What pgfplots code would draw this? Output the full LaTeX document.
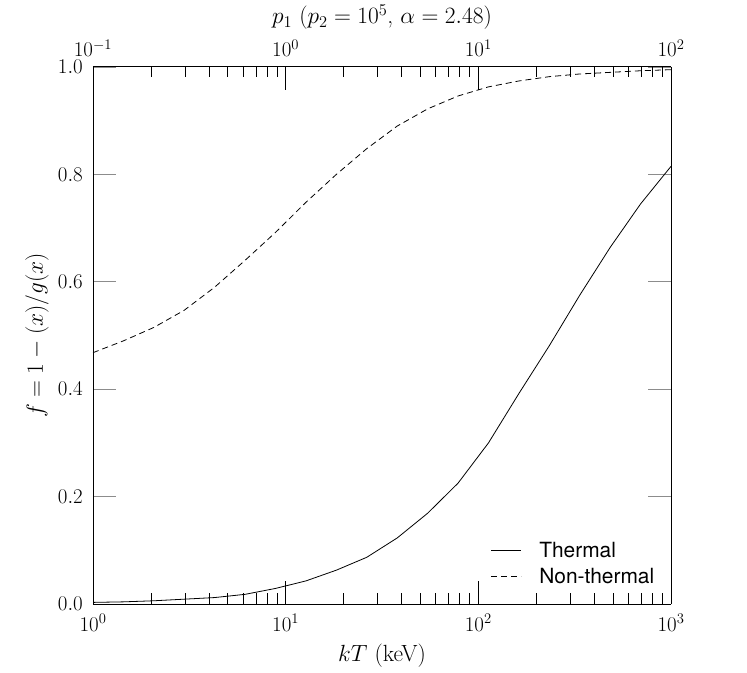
\documentclass[border=0pt]{standalone}
\usepackage{fix-cm}
\usepackage{pgfplots}
\pgfplotsset{compat=1.18}
\usepackage{fontspec}
\newfontfamily\helv{TeX Gyre Heros}

\pgfplotstableread{
kT f
1 0.003
1.438 0.004
2.069 0.006
2.976 0.009
4.281 0.012
6.158 0.018
8.859 0.029
12.74 0.043
18.33 0.063
26.37 0.087
37.93 0.123
54.56 0.169
78.48 0.225
112.9 0.300
162.4 0.392
233.6 0.481
336.0 0.575
483.3 0.664
695.2 0.745
1000 0.815
}\thermal

\pgfplotstableread{
p f
0.1 0.468
0.1438 0.490
0.2069 0.515
0.2976 0.547
0.4281 0.590
0.6158 0.640
0.8859 0.692
1.274 0.748
1.833 0.800
2.637 0.848
3.793 0.890
5.456 0.922
7.848 0.946
11.29 0.963
16.24 0.974
23.36 0.982
33.60 0.987
48.33 0.990
69.52 0.993
100 0.995
}\nonthermal

\pgfplotsset{
  myaxis/.style={
    scale only axis, width=578bp, height=537bp,
    at={(93bp,69bp)}, anchor=south west,
    tick align=inside,
    major tick length=23bp, minor tick length=10.5bp,
    every tick/.style={black, line width=0.5pt},
    tick label style={font=\fontsize{21}{25}\selectfont},
    label style={font=\fontsize{23.5}{28}\selectfont},
    axis line style={line width=1pt},
  }
}

\begin{document}
\begin{tikzpicture}
\useasboundingbox (0,0) rectangle (747bp,673bp);
\begin{axis}[myaxis,
  xmode=log, xmin=1, xmax=1000,
  ymin=0, ymax=1,
  axis x line*=bottom,
  ytick={0,0.2,0.4,0.6,0.8,1.0},
  yticklabel style={/pgf/number format/fixed, /pgf/number format/fixed zerofill,
    /pgf/number format/precision=1, inner sep=0pt, xshift=-10bp},
  xticklabel style={inner sep=0pt, yshift=-10bp},
  ytick style={black!45, line width=0.6pt},
  ytick pos=both,
  xlabel={$kT$ (keV)},
  xlabel style={at={(axis description cs:0.5,-0.0968)}, anchor=center},
  ylabel={$f = 1 - (x)/g(x)$},
  ylabel style={at={(axis description cs:-0.097,0.5)}, anchor=center},
]
\addplot[black, line width=0.8pt] table[x=kT, y=f] {\thermal};
\end{axis}
\begin{axis}[myaxis,
  xmode=log, xmin=0.1, xmax=100,
  ymin=0, ymax=1,
  axis x line*=top,
  axis y line=none,
  xticklabel style={inner sep=0pt, yshift=10bp},
  xlabel={$p_1$ ($p_2 = 10^5$, $\alpha = 2.48$)},
  xlabel style={at={(axis description cs:0.5,1.093)}, anchor=center},
  legend style={draw=none, fill=none, at={(0.98,0.028)}, anchor=south east,
    font=\helv\fontsize{21}{25}\selectfont, row sep=5bp},
  legend cell align=left,
  legend image code/.code={\draw[#1] (0bp,0bp) -- (30bp,0bp); \path[draw=none] (46bp,0bp);},
]
\addlegendimage{black, line width=0.8pt}
\addlegendentry{Thermal}
\addplot[black, line width=0.8pt, dash pattern=on 6bp off 4bp] table[x=p, y=f] {\nonthermal};
\addlegendentry{Non-thermal}
\end{axis}
\end{tikzpicture}
\end{document}
